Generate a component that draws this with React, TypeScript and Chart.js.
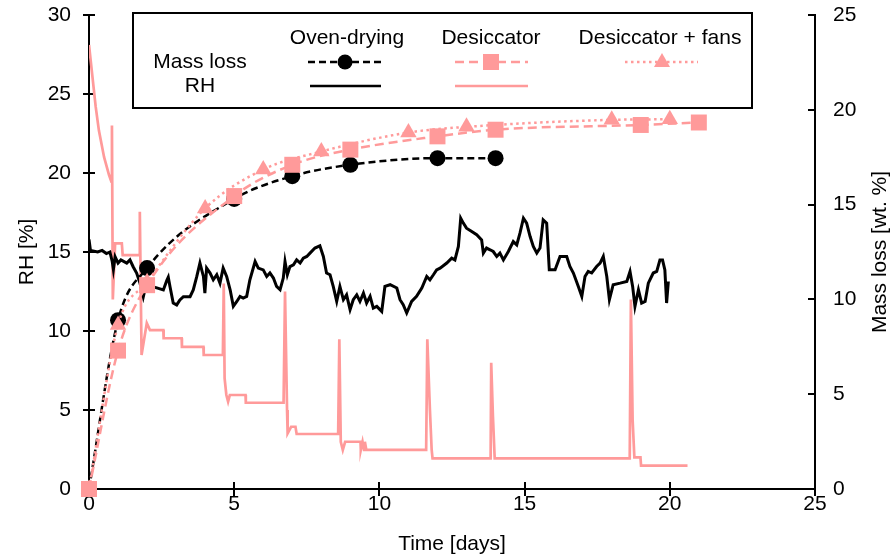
import React, { useEffect, useRef } from 'react';
import { Chart, registerables } from 'chart.js';

Chart.register(...registerables);

// Mass loss [wt. %] at each weighing day
const ovenDays = [0, 1, 2, 5, 7, 9, 12, 14];
const ovenMassLoss = [0, 8.9, 11.65, 15.3, 16.5, 17.1, 17.45, 17.45];
const desiccatorDays = [0, 1, 2, 5, 7, 9, 12, 14, 19, 21];
const desiccatorMassLoss = [0, 7.3, 10.75, 15.45, 17.1, 17.9, 18.6, 18.95, 19.2, 19.33];
const fansDays = [0, 1, 2, 4, 6, 8, 11, 13, 18, 20];
const fansMassLoss = [0, 8.65, 10.9, 14.8, 16.85, 17.8, 18.8, 19.1, 19.47, 19.5];

// Relative humidity log [%], oven-drying
const ovenRhDays = [
  0, 0.05, 0.3, 0.45, 0.6, 0.72, 0.8, 0.84, 0.9, 1.0, 1.1, 1.3, 1.41, 1.52, 1.64, 1.76, 1.87, 1.95,
  2.2, 2.39, 2.56, 2.68, 2.73, 2.79, 2.9, 3.02, 3.13, 3.25, 3.48, 3.59, 3.71,
  3.82, 3.94, 3.99, 4.05, 4.17, 4.28, 4.4, 4.51, 4.62, 4.74, 4.86, 4.97, 5.09, 5.2, 5.31, 5.43,
  5.54, 5.72, 5.83, 6.0, 6.12, 6.23, 6.35, 6.46, 6.58, 6.69, 6.75, 6.83, 6.92, 7.04, 7.15, 7.27,
  7.38, 7.5, 7.61, 7.78, 7.95, 8.07, 8.18, 8.3, 8.41, 8.53, 8.64, 8.76, 8.87, 8.99, 9.1, 9.22,
  9.33, 9.45, 9.56, 9.68, 9.79, 9.91, 10.08, 10.19, 10.37, 10.6, 10.71, 10.82, 10.94, 11.11,
  11.28, 11.46, 11.63, 11.74, 11.86, 11.97, 12.09, 12.32, 12.49, 12.6, 12.72, 12.8, 12.89, 13.0,
  13.18, 13.35, 13.52, 13.58, 13.69, 13.81, 13.92, 14.04, 14.15, 14.27, 14.44, 14.61, 14.73,
  14.84, 14.96, 15.07, 15.19, 15.3, 15.42, 15.53, 15.64, 15.76, 15.85, 16.05, 16.22, 16.45,
  16.56, 16.68, 16.85, 16.97, 17.08, 17.19, 17.31, 17.48, 17.6, 17.71, 17.83, 17.92, 18.05,
  18.29, 18.52, 18.63, 18.72, 18.8, 18.92, 19.03, 19.15, 19.26, 19.43, 19.55, 19.66, 19.75,
  19.83, 19.89, 19.95,
];
const ovenRh = [
  15.8, 15.1, 15.0, 15.1, 14.9, 15.0, 14.4, 13.9, 14.7, 14.3, 14.5, 14.3, 14.5, 14.07, 13.67, 13.0, 12.17, 12.8,
  12.8, 12.7, 12.6, 13.2, 13.4, 12.8, 11.77, 11.65, 11.96, 12.17, 12.17, 12.6, 13.44,
  14.3, 13.45, 12.4, 13.98, 13.67, 13.24, 13.56, 13.03, 13.98, 13.45, 12.61, 11.56, 11.87, 12.19, 12.08, 12.19,
  13.24, 14.4, 13.98, 13.87, 13.45, 13.67, 13.35, 12.82, 12.61, 13.35, 14.4, 13.56, 14.08, 14.19, 14.5, 14.3,
  14.61, 14.72, 14.93, 15.25, 15.39, 14.72, 13.67, 13.56, 12.82, 11.87, 12.82, 11.98, 12.29, 11.35, 11.98, 12.29,
  11.87, 12.4, 11.77, 12.19, 11.45, 11.56, 11.24, 12.82, 12.93, 12.72, 11.98, 11.66, 11.14, 11.87,
  12.19, 12.72, 13.45, 13.24, 13.56, 13.87, 13.98, 14.3, 14.61, 14.5, 15.35, 17.14, 16.83, 16.51,
  16.3, 16.09, 15.77, 14.93, 15.25, 15.14, 15.03, 14.72, 14.93, 14.5, 15.03, 15.66, 15.45,
  16.19, 17.14, 16.83, 15.98, 15.35, 14.93, 15.25, 17.03, 16.83, 13.87, 13.87, 14.72, 14.72,
  14.08, 13.67, 12.82, 12.19, 13.45, 13.77, 13.67, 14.08, 14.3, 14.72, 13.45, 11.98, 12.93,
  13.03, 13.14, 13.77, 12.82, 11.56, 12.61, 11.77, 11.87, 13.03, 13.67, 13.77, 14.5, 14.5,
  13.87, 11.77, 13.14,
];

// Relative humidity log [%], desiccator
const desiccatorRhDays = [
  0, 0.23, 0.34, 0.52, 0.69, 0.77, 0.79, 0.82, 0.9, 1.13, 1.16, 1.73, 1.75, 1.81, 1.99, 2.1,
  2.56, 2.57, 3.19, 3.2, 3.94, 3.95, 4.61, 4.64, 4.67, 4.73, 4.79, 4.85, 5.39, 5.4, 6.7, 6.75,
  6.82, 6.84, 6.96, 7.11, 7.15, 8.58, 8.62, 8.67, 8.74, 8.82, 9.35, 9.36, 9.42, 9.47, 9.5, 9.55,
  11.61, 11.65, 11.74, 11.8, 11.83, 13.83, 13.85, 13.91, 13.97, 18.62, 18.66, 18.72, 18.78,
  18.99, 19.01, 20.61,
];
const desiccatorRh = [
  28.1, 24.2, 22.7, 21.0, 19.87, 19.45, 23.0, 12.0, 15.55, 15.55, 14.8, 14.8, 17.55, 8.48, 10.5, 10.06,
  10.06, 9.54, 9.54, 9.0, 9.0, 8.48, 8.48, 13.0, 7.0, 5.95, 5.53, 5.95, 5.95, 5.46, 5.46, 12.5,
  5.0, 3.52, 3.94, 3.94, 3.48, 3.48, 9.47, 2.99, 2.47, 2.99, 2.99, 2.47, 2.99, 2.47, 2.99, 2.47,
  2.47, 9.47, 5.0, 2.47, 1.94, 1.94, 7.99, 4.58, 1.94, 1.94, 12.0, 4.37, 2.0,
  2.0, 1.48, 1.48,
];

const PINK = '#ff9a9a';
const BLACK = '#000000';
const FONT = "'Liberation Sans', Arial, sans-serif";
const FONT_SIZE = 21;

const toPoints = (xs: number[], ys: number[]) => xs.map((x, i) => ({ x, y: ys[i] }));

// Axis tick marks: crossing on the left and bottom axes, inward on the right axis
const tickMarks = {
  id: 'tickMarks',
  beforeDatasetsDraw(chart: any) {
    const { ctx, chartArea, scales } = chart;
    ctx.save();
    ctx.strokeStyle = BLACK;
    ctx.lineWidth = 2;
    ctx.beginPath();
    scales.x.ticks.forEach((t: any) => {
      const px = Math.round(scales.x.getPixelForValue(t.value));
      ctx.moveTo(px, chartArea.bottom - 7);
      ctx.lineTo(px, chartArea.bottom + 7);
    });
    scales.yRh.ticks.forEach((t: any) => {
      const py = Math.round(scales.yRh.getPixelForValue(t.value));
      ctx.moveTo(chartArea.left - 6, py);
      ctx.lineTo(chartArea.left + 6, py);
    });
    scales.yMass.ticks.forEach((t: any) => {
      const py = Math.round(scales.yMass.getPixelForValue(t.value));
      ctx.moveTo(chartArea.right - 7, py);
      ctx.lineTo(chartArea.right, py);
    });
    ctx.stroke();
    ctx.restore();
  },
};

// Axis titles and the two-row legend box
const decorations = {
  id: 'decorations',
  afterDraw(chart: any) {
    const { ctx, chartArea } = chart;
    const midY = (chartArea.top + chartArea.bottom) / 2;
    ctx.save();
    ctx.fillStyle = BLACK;
    ctx.font = `${FONT_SIZE}px ${FONT}`;
    ctx.textAlign = 'center';
    ctx.textBaseline = 'middle';

    ctx.fillText('Time [days]', (chartArea.left + chartArea.right) / 2, 544);

    ctx.save();
    ctx.translate(27, midY);
    ctx.rotate(-Math.PI / 2);
    ctx.fillText('RH [%]', 0, 0);
    ctx.restore();

    ctx.save();
    ctx.translate(880, midY);
    ctx.rotate(-Math.PI / 2);
    ctx.fillText('Mass loss [wt. %]', 0, 0);
    ctx.restore();

    // legend frame
    ctx.fillStyle = '#ffffff';
    ctx.fillRect(133, 13, 619, 95);
    ctx.strokeStyle = BLACK;
    ctx.lineWidth = 2;
    ctx.strokeRect(133, 13, 619, 95);

    ctx.fillStyle = BLACK;
    ctx.fillText('Mass loss', 200, 62);
    ctx.fillText('RH', 200, 86);
    ctx.fillText('Oven-drying', 347, 38);
    ctx.fillText('Desiccator', 491, 38);
    ctx.fillText('Desiccator + fans', 660, 38);

    const sample = (x0: number, x1: number, y: number, color: string, dash: number[]) => {
      ctx.save();
      ctx.strokeStyle = color;
      ctx.lineWidth = 2.5;
      ctx.setLineDash(dash);
      ctx.beginPath();
      ctx.moveTo(x0, y);
      ctx.lineTo(x1, y);
      ctx.stroke();
      ctx.restore();
    };

    // oven-drying
    sample(308, 381, 62, BLACK, [7, 4]);
    ctx.beginPath();
    ctx.arc(345, 62, 7.5, 0, Math.PI * 2);
    ctx.fillStyle = BLACK;
    ctx.fill();
    sample(310, 381, 86, BLACK, []);

    // desiccator
    sample(455, 528, 62, PINK, [9, 5]);
    ctx.fillStyle = PINK;
    ctx.fillRect(483, 54, 16, 16);
    sample(455, 528, 86, PINK, []);

    // desiccator + fans
    sample(625, 698, 62, PINK, [2.5, 3.5]);
    ctx.beginPath();
    ctx.moveTo(662, 53);
    ctx.lineTo(670, 67);
    ctx.lineTo(654, 67);
    ctx.closePath();
    ctx.fillStyle = PINK;
    ctx.fill();

    ctx.restore();
  },
};

// Fixed axis box sizes; label overhang must not push the plot area inward
const fixWidth = (w: number) => (s: any) => {
  s.width = w;
  s.paddingTop = 0;
  s.paddingBottom = 0;
};

export default function App() {
  const canvasRef = useRef<HTMLCanvasElement | null>(null);

  useEffect(() => {
    const canvas = canvasRef.current;
    if (!canvas) return;

    const tickFont = { family: FONT, size: FONT_SIZE };

    const chart = new Chart(canvas, {
      type: 'line',
      data: {
        datasets: [
          {
            label: 'Desiccator mass loss',
            data: toPoints(desiccatorDays, desiccatorMassLoss),
            yAxisID: 'yMass',
            borderColor: PINK,
            backgroundColor: PINK,
            borderWidth: 2.5,
            borderDash: [9, 5],
            pointStyle: 'rect',
            pointRadius: 11.3,
            pointBorderWidth: 0,
            pointBackgroundColor: PINK,
            cubicInterpolationMode: 'monotone',
            clip: false,
            order: 1,
          },
          {
            label: 'Desiccator + fans mass loss',
            data: toPoints(fansDays, fansMassLoss),
            yAxisID: 'yMass',
            borderColor: PINK,
            backgroundColor: PINK,
            borderWidth: 2.5,
            borderDash: [2.5, 3.5],
            pointStyle: 'triangle',
            pointRadius: 9.5,
            pointBorderWidth: 0,
            pointBackgroundColor: PINK,
            cubicInterpolationMode: 'monotone',
            clip: false,
            order: 2,
          },
          {
            label: 'Oven-drying mass loss',
            data: toPoints(ovenDays, ovenMassLoss),
            yAxisID: 'yMass',
            borderColor: BLACK,
            backgroundColor: BLACK,
            borderWidth: 2.5,
            borderDash: [7, 4],
            pointStyle: 'circle',
            pointRadius: 8,
            pointBorderWidth: 0,
            pointBackgroundColor: BLACK,
            cubicInterpolationMode: 'monotone',
            clip: false,
            order: 3,
          },
          {
            label: 'Oven-drying RH',
            data: toPoints(ovenRhDays, ovenRh),
            yAxisID: 'yRh',
            borderColor: BLACK,
            borderWidth: 3,
            pointRadius: 0,
            tension: 0,
            order: 4,
          },
          {
            label: 'Desiccator RH',
            data: toPoints(desiccatorRhDays, desiccatorRh),
            yAxisID: 'yRh',
            borderColor: PINK,
            borderWidth: 2.7,
            pointRadius: 0,
            tension: 0,
            order: 5,
          },
        ],
      },
      options: {
        responsive: false,
        animation: false,
        layout: { padding: { top: 15, left: 0, right: 0, bottom: 0 } },
        plugins: {
          legend: { display: false },
          tooltip: { enabled: false },
        },
        scales: {
          x: {
            type: 'linear',
            min: 0,
            max: 25,
            ticks: { stepSize: 5, color: BLACK, font: tickFont, padding: 3, maxRotation: 0 },
            grid: { display: false, drawTicks: false },
            border: { display: true, color: BLACK, width: 2 },
            afterFit: (s: any) => {
              s.height = 69;
              s.paddingLeft = 0;
              s.paddingRight = 0;
            },
          },
          yRh: {
            type: 'linear',
            position: 'left',
            min: 0,
            max: 30,
            ticks: { stepSize: 5, color: BLACK, font: tickFont, padding: 18 },
            grid: { display: false, drawTicks: false },
            border: { display: true, color: BLACK, width: 2 },
            afterFit: fixWidth(89),
          },
          yMass: {
            type: 'linear',
            position: 'right',
            min: 0,
            max: 25,
            ticks: { stepSize: 5, color: BLACK, font: tickFont, padding: 18 },
            grid: { display: false, drawTicks: false },
            border: { display: true, color: BLACK, width: 2 },
            afterFit: fixWidth(77),
          },
        },
      },
      plugins: [tickMarks, decorations],
    } as any);

    return () => chart.destroy();
  }, []);

  return (
    <canvas
      ref={canvasRef}
      width={892}
      height={558}
      style={{ position: 'absolute', left: 0, top: 0, width: 892, height: 558, background: '#fff' }}
    />
  );
}
